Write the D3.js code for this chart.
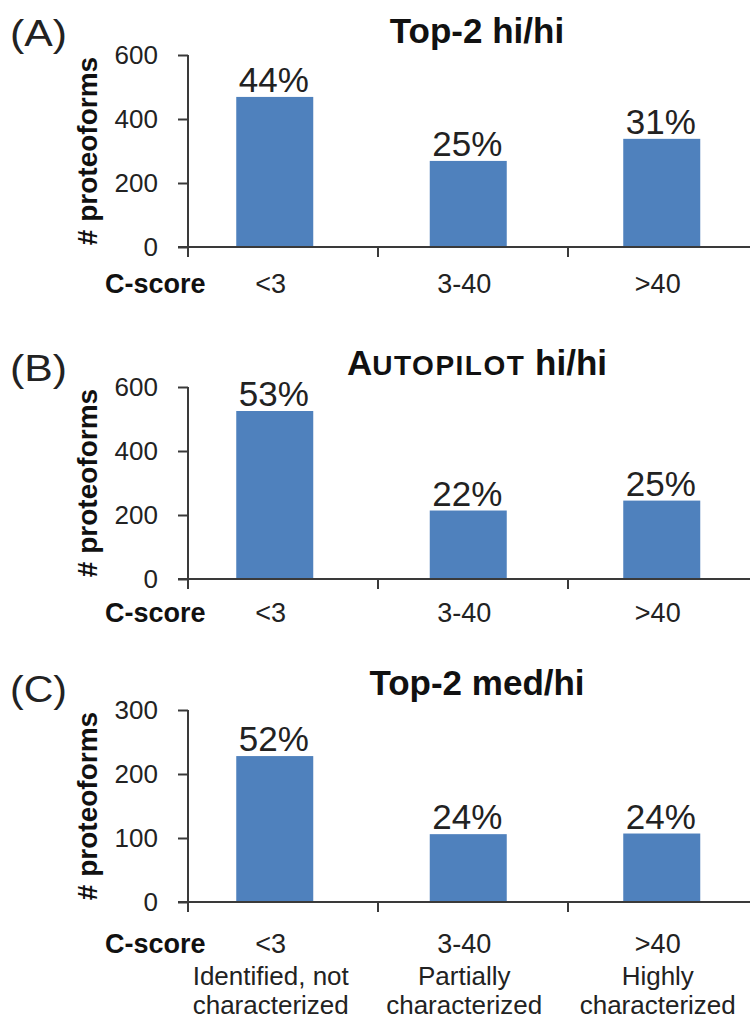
<!DOCTYPE html>
<html>
<head>
<meta charset="utf-8">
<script src="https://cdnjs.cloudflare.com/ajax/libs/d3/7.8.5/d3.min.js"></script>
<style>
  html, body { margin: 0; padding: 0; background: #ffffff; }
  svg { display: block; }
  text { font-family: "Liberation Sans", Arial, sans-serif; }
</style>
</head>
<body>
<svg id="chart" width="750" height="1020"></svg>
<script>
// C-score bins shared by all three panels
const categories = ["<3", "3-40", ">40"];
const descriptions = [
  ["Identified, not", "characterized"],
  ["Partially", "characterized"],
  ["Highly", "characterized"]
];

// Panel (A): Top-2 hi/hi
const valuesA = [469, 269, 338];
const percentA = ["44%", "25%", "31%"];
const ticksA = [0, 200, 400, 600];

// Panel (B): Autopilot hi/hi
const valuesB = [525, 214, 245];
const percentB = ["53%", "22%", "25%"];
const ticksB = [0, 200, 400, 600];

// Panel (C): Top-2 med/hi
const valuesC = [228, 106, 107];
const percentC = ["52%", "24%", "24%"];
const ticksC = [0, 100, 200, 300];

const panelLetters = ["(A)", "(B)", "(C)"];
const axisTitle = "# proteoforms";
const xAxisTitle = "C-score";

// Title pieces: [text, small-caps flag]
const titleA = [["Top-2 hi/hi", false]];
const titleB = [["A", false], ["UTOPILOT", true], [" hi/hi", false]];
const titleC = [["Top-2 med/hi", false]];

const panels = [
  { letter: panelLetters[0], title: titleA, values: valuesA, pct: percentA, ticks: ticksA,
    top: 55, bottom: 247, letterY: 46, titleY: 43, catY: 293, desc: false },
  { letter: panelLetters[1], title: titleB, values: valuesB, pct: percentB, ticks: ticksB,
    top: 387, bottom: 579, letterY: 381, titleY: 375, catY: 622, desc: false },
  { letter: panelLetters[2], title: titleC, values: valuesC, pct: percentC, ticks: ticksC,
    top: 710, bottom: 902, letterY: 702, titleY: 695, catY: 953, desc: true }
];

const svg = d3.select("#chart");
const axisX0 = 188;
const axisXEnd = 750;
const barColor = "#4f81bd";
const inkAxis = "#3a3a3a";
const inkText = "#222222";

// Category slots: tick marks sit at the start of each slot
const xTicks = d3.scaleBand().domain(categories).range([axisX0, axisX0 + 190 * categories.length]);
// Bar placement across the same categories
const xBars = d3.scaleBand().domain(categories).range([178, 758.5]);
const barW = 77;
const barCenter = c => xBars(c) + xBars.bandwidth() / 2;

panels.forEach(p => {
  const g = svg.append("g");
  const y = d3.scaleLinear()
    .domain([0, d3.max(p.ticks)])
    .range([p.bottom, p.top]);

  // panel letter
  g.append("text")
    .attr("x", 10).attr("y", p.letterY)
    .attr("font-size", 36).attr("fill", inkText)
    .attr("textLength", 57).attr("lengthAdjust", "spacingAndGlyphs")
    .text(p.letter);

  // title
  const t = g.append("text")
    .attr("x", 477).attr("y", p.titleY)
    .attr("text-anchor", "middle")
    .attr("font-weight", "bold").attr("font-size", 35).attr("fill", "#111");
  p.title.forEach(([s, small]) => {
    t.append("tspan")
      .attr("font-size", small ? 28 : 35)
      .attr("letter-spacing", small ? 1.5 : 0)
      .text(s);
  });

  // bars
  g.selectAll("rect.bar")
    .data(categories)
    .join("rect")
    .attr("class", "bar")
    .attr("x", c => barCenter(c) - barW / 2)
    .attr("width", barW)
    .attr("y", (c, i) => y(p.values[i]))
    .attr("height", (c, i) => y(0) - y(p.values[i]))
    .attr("fill", barColor);

  // percentage labels above bars
  g.selectAll("text.pct")
    .data(categories)
    .join("text")
    .attr("class", "pct")
    .attr("x", c => barCenter(c) - 1)
    .attr("y", (c, i) => y(p.values[i]) - 5)
    .attr("text-anchor", "middle")
    .attr("font-size", 35).attr("fill", inkText)
    .text((c, i) => p.pct[i]);

  // y axis ticks and labels
  const yAxis = d3.axisLeft(y)
    .tickValues(p.ticks)
    .tickSize(10)
    .tickSizeOuter(0)
    .tickPadding(20)
    .tickFormat(d3.format("d"));
  const ya = g.append("g").attr("transform", `translate(${axisX0},0)`).call(yAxis);
  ya.select(".domain").remove();
  ya.selectAll(".tick line").attr("stroke", inkAxis).attr("stroke-width", 2);
  ya.selectAll(".tick text")
    .attr("font-size", 26).attr("fill", inkText)
    .attr("font-family", "'Liberation Sans', Arial, sans-serif");

  // y axis line (runs down to the first category tick)
  g.append("line")
    .attr("x1", axisX0).attr("x2", axisX0)
    .attr("y1", y(d3.max(p.ticks))).attr("y2", y(0) + 10)
    .attr("stroke", inkAxis).attr("stroke-width", 2);

  // x axis line
  g.append("line")
    .attr("x1", axisX0 - 10).attr("x2", axisXEnd)
    .attr("y1", y(0)).attr("y2", y(0))
    .attr("stroke", inkAxis).attr("stroke-width", 2);

  // category boundary ticks
  g.selectAll("line.xtick")
    .data(categories.slice(1))
    .join("line")
    .attr("class", "xtick")
    .attr("x1", c => xTicks(c)).attr("x2", c => xTicks(c))
    .attr("y1", y(0)).attr("y2", y(0) + 10)
    .attr("stroke", inkAxis).attr("stroke-width", 2);

  // y axis title
  const midY = (p.top + p.bottom) / 2;
  g.append("text")
    .attr("transform", `translate(97,${midY}) rotate(-90)`)
    .attr("text-anchor", "middle")
    .attr("font-weight", "bold").attr("font-size", 28).attr("fill", "#111")
    .text(axisTitle);

  // x axis title
  g.append("text")
    .attr("x", 105).attr("y", p.catY)
    .attr("font-weight", "bold").attr("font-size", 27).attr("fill", "#111")
    .text(xAxisTitle);

  // category labels
  g.selectAll("text.cat")
    .data(categories)
    .join("text")
    .attr("class", "cat")
    .attr("x", c => barCenter(c) - 4)
    .attr("y", p.catY)
    .attr("text-anchor", "middle")
    .attr("font-size", 27).attr("fill", inkText)
    .text(c => c);

  if (p.desc) {
    categories.forEach((c, i) => {
      descriptions[i].forEach((line, j) => {
        g.append("text")
          .attr("class", "desc")
          .attr("x", barCenter(c) - 4)
          .attr("y", p.catY + 32 + j * 29)
          .attr("text-anchor", "middle")
          .attr("font-size", 26).attr("fill", inkText)
          .text(line);
      });
    });
  }
});
</script>
</body>
</html>
